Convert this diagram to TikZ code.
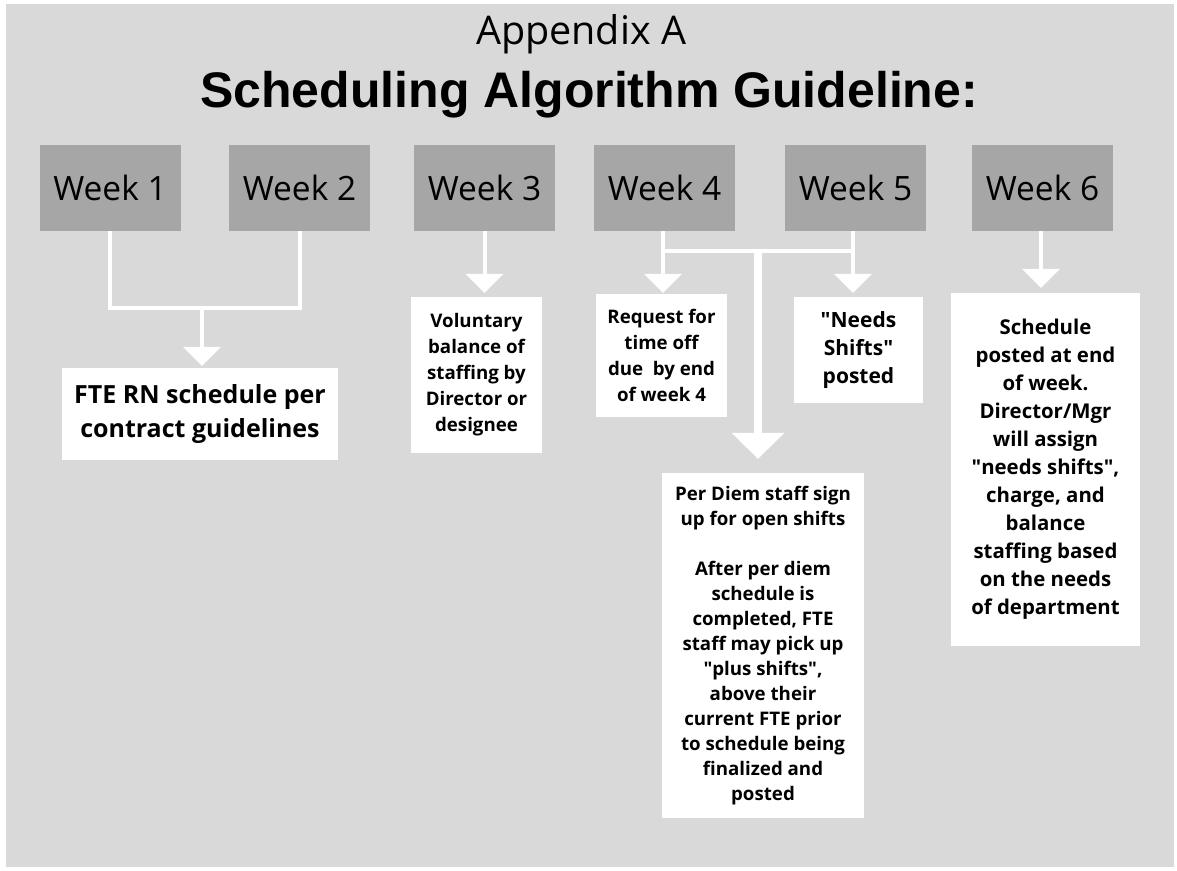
\documentclass[tikz,border=0pt]{standalone}
\usepackage{fontspec}
\setmainfont{Open Sans}
\newfontfamily\plainfont{Open Sans}
\newfontfamily\headfont{Liberation Sans}
\usetikzlibrary{arrows.meta}
\definecolor{pagebg}{HTML}{D9D9D9}
\definecolor{weekgray}{HTML}{A6A6A6}
\newcommand{\fsz}[2]{\fontsize{#1pt}{#2pt}\selectfont}
% straight double quote, set without the TeX ligature mapping
\newcommand{\dq}{{\plainfont\symbol{34}}}
\tikzset{
  weekbox/.style={fill=weekgray, minimum width=141pt, minimum height=86pt,
    inner sep=0pt, font=\fsz{33.5}{38}},
  notebox/.style={fill=white, inner sep=0pt, align=center, font=\bfseries},
  wire/.style={draw=white, line width=4pt},
  thinarrow/.style={wire, -{Triangle[width=38pt,length=19pt,line width=0pt]}},
  bigarrow/.style={draw=white, line width=8pt, -{Triangle[width=53pt,length=26pt,line width=0pt]}}
}
\begin{document}
\begin{tikzpicture}[x=1pt,y=-1pt]
  % page and panel
  \fill[white] (0,0) rectangle (1177,870);
  \fill[pagebg] (6,4) rectangle (1174,867);
  \useasboundingbox (0,0) rectangle (1177,870);

  % headings
  \node[anchor=base, font=\fsz{39.5}{44}] (app) at (581,44) {Appendix A};
  \node[anchor=base, font=\headfont\bfseries\fsz{50}{58}] (title) at (589,107)
    {Scheduling Algorithm Guideline:};

  % week boxes
  \node[weekbox] (w1) at (110,188)   {Week 1};
  \node[weekbox] (w2) at (299.5,188) {Week 2};
  \node[weekbox] (w3) at (484.5,188) {Week 3};
  \node[weekbox] (w4) at (664.5,188) {Week 4};
  \node[weekbox] (w5) at (855.5,188) {Week 5};
  \node[weekbox] (w6) at (1042.5,188) {Week 6};

  % outcome boxes
  \node[notebox, minimum width=276pt, minimum height=92pt, font=\bfseries\fsz{25}{34}]
    (fte) at (200,414) {FTE RN schedule per\\contract guidelines};
  \node[notebox, minimum width=131pt, minimum height=156pt, font=\bfseries\fsz{18.7}{26}]
    (vol) at (476.5,375) {Voluntary\\balance of\\staffing by\\Director or\\designee};
  \node[notebox, minimum width=131pt, minimum height=123pt, font=\bfseries\fsz{18.7}{26}]
    (req) at (661.5,355.5) {Request for\\time off\\due\ \ by end\\of week 4};
  \node[notebox, minimum width=129pt, minimum height=106pt, font=\bfseries\fsz{21}{28}]
    (needs) at (858.5,350) {\dq Needs\\Shifts\dq\\posted};
  \node[notebox, minimum width=202pt, minimum height=345pt, font=\bfseries\fsz{18.7}{25}]
    (diem) at (763,645.5) {Per Diem staff sign\\up for open shifts\\[25pt]After per diem\\schedule is\\completed, FTE\\staff may pick up\\\dq plus shifts\dq,\\above their\\current FTE prior\\to schedule being\\finalized and\\posted};
  \node[notebox, minimum width=189pt, minimum height=353pt, font=\bfseries\fsz{20.4}{28}]
    (final) at (1045.5,469.5) {Schedule\\posted at end\\of week.\\Director/Mgr\\will assign\\\dq needs shifts\dq,\\charge, and\\balance\\staffing based\\on the needs\\of department};

  % weeks 1 and 2 merge into the FTE schedule
  \coordinate (j12) at (202,308);
  \draw[wire] (w1.south) |- (j12) -| (w2.south);
  \draw[wire] ([xshift=-2pt]w1.south |- j12) -- (j12);
  \draw[thinarrow, shorten >=2pt] (j12) -- (j12 |- fte.north);

  % week 3
  \draw[thinarrow, shorten >=4pt] (w3.south) -- (w3.south |- vol.north);

  % weeks 4 and 5
  \coordinate (k4) at ([xshift=-1.5pt]w4.south |- 0,251);
  \coordinate (k5) at ([xshift=-2.5pt]w5.south |- 0,251);
  \coordinate (k45) at (758,251);
  \draw[thinarrow, shorten >=1pt] ([xshift=-1.5pt]w4.south) -- (k4 |- req.north);
  \draw[thinarrow, shorten >=4pt] ([xshift=-2.5pt]w5.south) -- (k5 |- needs.north);
  \draw[wire] (k4) -- (k5);
  \draw[bigarrow, shorten >=14pt] (k45) -- (k45 |- diem.north);

  % week 6
  \draw[thinarrow, shorten >=5pt] ([xshift=-1.5pt]w6.south) -- ([xshift=-1.5pt]w6.south |- final.north);
\end{tikzpicture}
\end{document}
